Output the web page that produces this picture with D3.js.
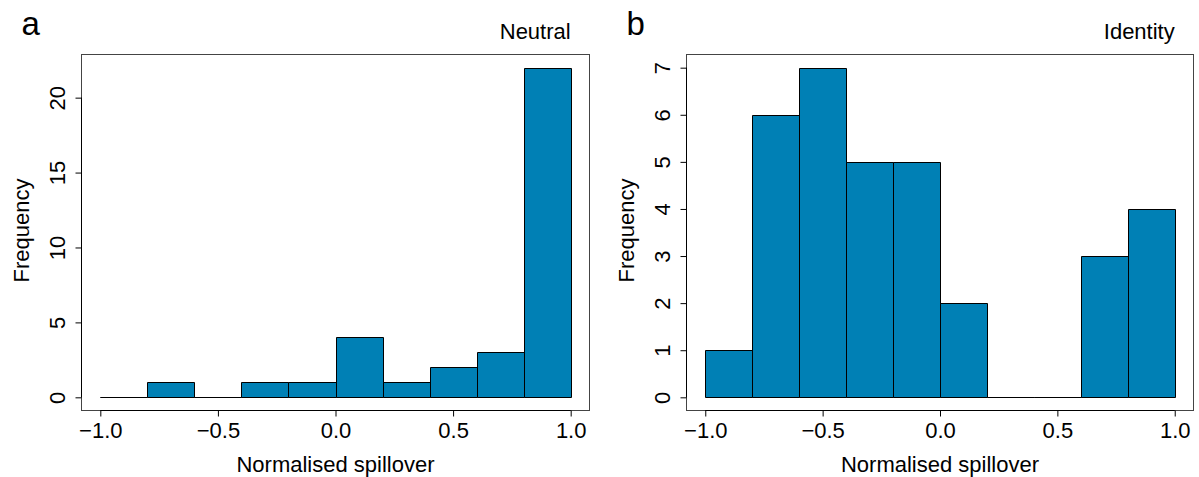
<!DOCTYPE html>
<html>
<head>
<meta charset="utf-8">
<script src="https://cdn.jsdelivr.net/npm/d3@7"></script>
<style>
  body { margin: 0; background: #fff; }
  svg text { font-family: "Liberation Sans", Arial, sans-serif; fill: #000; }
</style>
</head>
<body>
<div id="chart"></div>
<script>
// histogram bins and counts
const binEdges = [-1.0, -0.8, -0.6, -0.4, -0.2, 0.0, 0.2, 0.4, 0.6, 0.8, 1.0];
const neutralCounts = [0, 1, 0, 1, 1, 4, 1, 2, 3, 22];
const identityCounts = [1, 6, 7, 5, 5, 2, 0, 0, 3, 4];
const xTicks = [-1.0, -0.5, 0.0, 0.5, 1.0];
const neutralYTicks = [0, 5, 10, 15, 20];
const identityYTicks = [0, 1, 2, 3, 4, 5, 6, 7];

const width = 1199, height = 477;
const barColor = '#0080b5';
const fontSize = 22;

const svg = d3.select('#chart').append('svg')
    .attr('width', width)
    .attr('height', height);

const panels = [
    { letter: 'a', title: 'Neutral', counts: neutralCounts, yTicks: neutralYTicks, left: 81.5, right: 589.5 },
    { letter: 'b', title: 'Identity', counts: identityCounts, yTicks: identityYTicks, left: 686.5, right: 1193.5 }
];

const plotTop = 54.5, plotBottom = 410.5;

panels.forEach(p => {
    let g = svg.append('g');
    let ymax = d3.max(p.counts);

    // R style: 4% padding around the data range
    let x = d3.scaleLinear().domain([-1.08, 1.08]).range([p.left, p.right]);
    let y = d3.scaleLinear().domain([-0.04 * ymax, 1.04 * ymax]).range([plotBottom, plotTop]);

    let bins = p.counts.map((c, i) => ({ x0: binEdges[i], x1: binEdges[i + 1], n: c }));

    g.selectAll('path.bar')
        .data(bins)
        .enter()
        .append('path')
        .attr('class', 'bar')
        .attr('d', d => {
            let x0 = Math.round(x(d.x0)) + 0.5, x1 = Math.round(x(d.x1)) + 0.5;
            let y0 = Math.round(y(0)) + 0.5, y1 = Math.round(y(d.n)) + 0.5;
            return `M${x0},${y0}H${x1}V${y1}H${x0}Z`;
        })
        .attr('fill', barColor)
        .attr('stroke', '#000')
        .attr('stroke-width', 1);

    // box
    g.append('rect')
        .attr('x', p.left).attr('y', plotTop)
        .attr('width', p.right - p.left).attr('height', plotBottom - plotTop)
        .attr('fill', 'none')
        .attr('stroke', '#444')
        .attr('stroke-width', 1);

    // x axis
    let xAxis = g.append('g')
        .attr('transform', `translate(0,${plotBottom})`)
        .call(d3.axisBottom(x).tickValues(xTicks).tickSize(6).tickPadding(6).tickFormat(d3.format('.1f')));
    xAxis.select('.domain').remove();
    xAxis.selectAll('text').attr('font-size', fontSize).attr('font-family', '"Liberation Sans", Arial, sans-serif');
    g.append('line')
        .attr('x1', x(xTicks[0])).attr('x2', x(xTicks[xTicks.length - 1]))
        .attr('y1', plotBottom).attr('y2', plotBottom)
        .attr('stroke', '#000');

    // y axis
    let yAxis = g.append('g')
        .attr('transform', `translate(${p.left},0)`)
        .call(d3.axisLeft(y).tickValues(p.yTicks).tickSize(6).tickFormat(d3.format('d')));
    yAxis.select('.domain').remove();
    yAxis.selectAll('text')
        .attr('font-size', fontSize)
        .attr('font-family', '"Liberation Sans", Arial, sans-serif')
        .attr('x', null).attr('dy', null)
        .attr('text-anchor', 'middle')
        .attr('transform', 'translate(-17,0) rotate(-90)');
    g.append('line')
        .attr('x1', p.left).attr('x2', p.left)
        .attr('y1', y(p.yTicks[0])).attr('y2', y(p.yTicks[p.yTicks.length - 1]))
        .attr('stroke', '#000');

    // labels
    g.append('text')
        .attr('x', (x(-1) + x(1)) / 2).attr('y', 472)
        .attr('text-anchor', 'middle')
        .attr('font-size', fontSize)
        .text('Normalised spillover');

    g.append('text')
        .attr('transform', `translate(${p.left - 53},${(plotTop + plotBottom) / 2 - 2}) rotate(-90)`)
        .attr('text-anchor', 'middle')
        .attr('font-size', fontSize)
        .text('Frequency');

    g.append('text')
        .attr('x', x(1)).attr('y', 39)
        .attr('text-anchor', 'end')
        .attr('font-size', fontSize)
        .text(p.title);

    g.append('text')
        .attr('x', p.left - 60).attr('y', 35)
        .attr('font-size', 33)
        .text(p.letter);
});
</script>
</body>
</html>
